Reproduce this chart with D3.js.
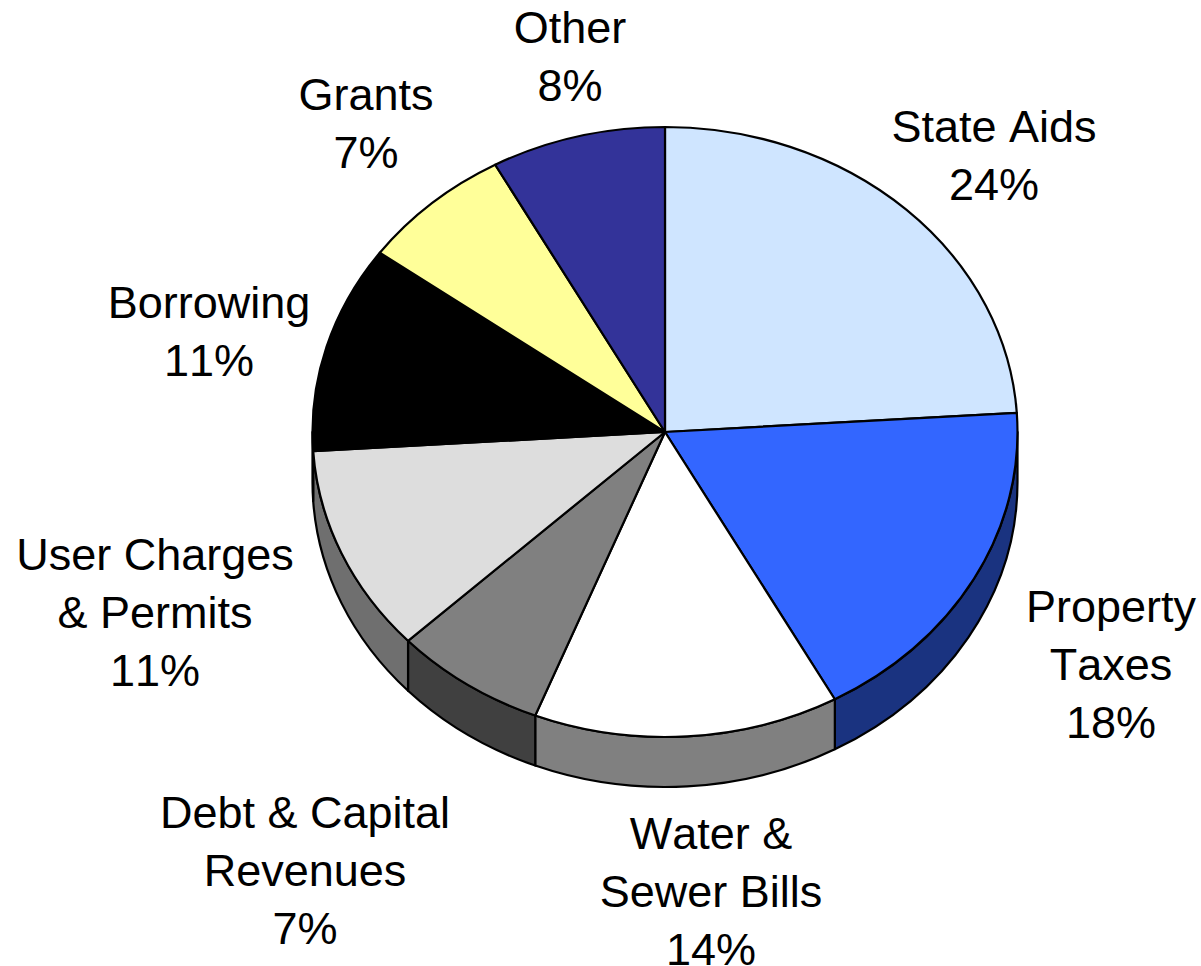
<!DOCTYPE html>
<html>
<head>
<meta charset="utf-8">
<style>
  html, body { margin: 0; padding: 0; background: #fff; overflow: hidden; }
  svg { display: block; }
  text { font-family: "Liberation Sans", Arial, sans-serif; font-size: 45px; font-kerning: none; fill: #000; }
</style>
</head>
<body>
<svg id="chart" width="1201" height="966"></svg>
<script src="https://cdn.jsdelivr.net/npm/d3@7/dist/d3.min.js"></script>
<script>
// Revenue sources, clockwise from twelve o'clock
const categories = ["State Aids", "Property Taxes", "Water & Sewer Bills", "Debt & Capital Revenues",
                    "User Charges & Permits", "Borrowing", "Grants", "Other"];
const shares = [24, 18, 14, 7, 11, 11, 7, 8];
const labelLines = [["State Aids"], ["Property", "Taxes"], ["Water &", "Sewer Bills"], ["Debt & Capital", "Revenues"],
                    ["User Charges", "& Permits"], ["Borrowing"], ["Grants"], ["Other"]];
const topColors = ["#CFE5FF", "#3366FF", "#FFFFFF", "#808080", "#DDDDDD", "#000000", "#FFFF99", "#333399"];
const sideColors = ["#687380", "#1A3380", "#808080", "#404040", "#6F6F6F", "#000000", "#80804D", "#1A1A4D"];
// Baseline of the first line and centre of each label block
const labelX = [994, 1111, 711, 305, 155, 209, 366, 570];
const labelY = [142, 622, 849, 828, 570, 318, 110, 43];

const lineHeight = 58;
const wallDepth = 50;

const svg = d3.select("#chart");

// The disc is a tilted circle: unit coordinates map to an ellipse on the page
const x = d3.scaleLinear().domain([-1, 1]).range([312.5, 1017.5]);
const y = d3.scaleLinear().domain([-1, 1]).range([127, 737]);
const rx = (x(1) - x(-1)) / 2;
const ry = (y(1) - y(-1)) / 2;
const px = a => x(Math.sin(a));
const py = a => y(-Math.cos(a));

const pie = d3.pie().value(d => d).sort(null);
const arcs = pie(shares);

function topPath(d) {
  const large = d.endAngle - d.startAngle > Math.PI ? 1 : 0;
  return `M${x(0)},${y(0)}L${px(d.startAngle)},${py(d.startAngle)}` +
         `A${rx},${ry} 0 ${large} 1 ${px(d.endAngle)},${py(d.endAngle)}Z`;
}

function wallPath(d) {
  // Only the front half of the rim can be seen
  const a0 = Math.max(d.startAngle, Math.PI / 2);
  const a1 = Math.min(d.endAngle, 3 * Math.PI / 2);
  return `M${px(a0)},${py(a0)}A${rx},${ry} 0 0 1 ${px(a1)},${py(a1)}` +
         `L${px(a1)},${py(a1) + wallDepth}A${rx},${ry} 0 0 0 ${px(a0)},${py(a0) + wallDepth}Z`;
}

const frontArcs = arcs.filter(d => d.endAngle > Math.PI / 2 && d.startAngle < 3 * Math.PI / 2);

svg.append("g").selectAll("path").data(frontArcs).join("path")
  .attr("d", wallPath)
  .attr("fill", d => sideColors[d.index])
  .attr("stroke", "#000")
  .attr("stroke-width", 2.2)
  .attr("stroke-linejoin", "round");

svg.append("g").selectAll("path").data(arcs).join("path")
  .attr("d", topPath)
  .attr("fill", d => topColors[d.index])
  .attr("stroke", "#000")
  .attr("stroke-width", 2.2)
  .attr("stroke-linejoin", "round");

const labels = svg.append("g").selectAll("text").data(categories).join("text")
  .attr("text-anchor", "middle")
  .attr("x", (d, i) => labelX[i])
  .attr("y", (d, i) => labelY[i]);

labels.each(function (d, i) {
  const t = d3.select(this);
  labelLines[i].concat(shares[i] + "%").forEach((line, k) => {
    t.append("tspan").attr("x", labelX[i]).attr("dy", k ? lineHeight : 0).text(line);
  });
});
</script>
</body>
</html>
